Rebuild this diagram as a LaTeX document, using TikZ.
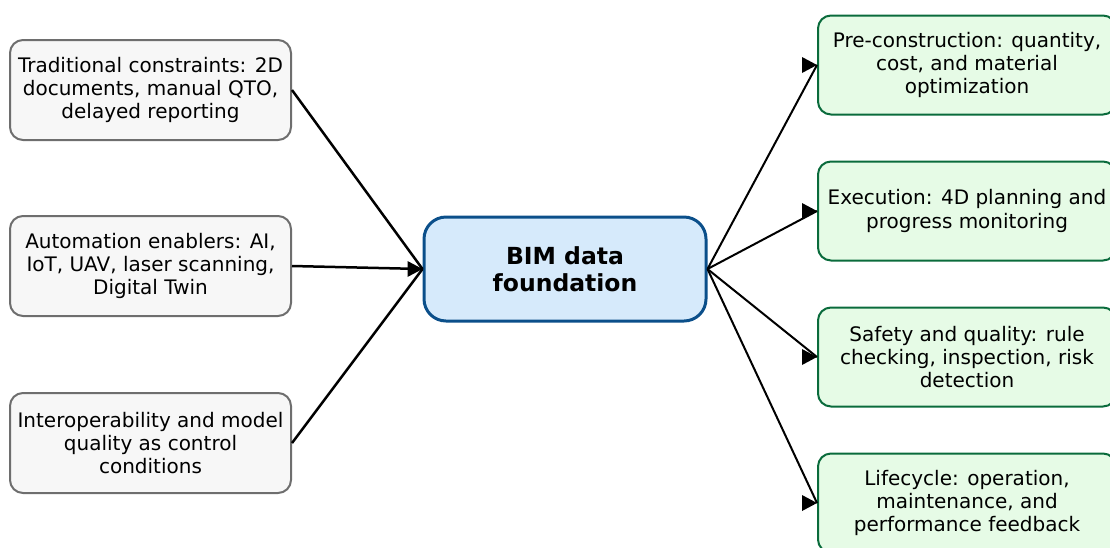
\documentclass[tikz,border=0pt]{standalone}
\usepackage{fontspec}
\setmainfont{DejaVu Sans}
\usetikzlibrary{arrows.meta,calc}
\definecolor{greyfill}{HTML}{F7F7F7}
\definecolor{greyline}{HTML}{6E6E6E}
\definecolor{bluefill}{HTML}{D6EAFB}
\definecolor{blueline}{HTML}{0B4F8A}
\definecolor{greenfill}{HTML}{E6FBE6}
\definecolor{greenline}{HTML}{0A6B3C}
\begin{document}
\begin{tikzpicture}[x=1pt,y=-1pt,
  base/.style={rounded corners=13pt, align=center, inner sep=0pt, text=black,
    font=\fontsize{20}{23.3}\selectfont},
  inbox/.style={base, draw=greyline, fill=greyfill, line width=2pt,
    minimum width=281pt, minimum height=100pt},
  hub/.style={base, draw=blueline, fill=bluefill, line width=3pt,
    minimum width=282pt, minimum height=104pt, rounded corners=22pt,
    font=\bfseries\fontsize{23.5}{27}\selectfont},
  outbox/.style={base, draw=greenline, fill=greenfill, line width=2pt,
    minimum width=298pt, minimum height=99pt},
  inconn/.style={black, line width=2.5pt},
  outconn/.style={black, line width=2pt},
  tipshape/.style={fill=black},
]
\path[use as bounding box] (0,0) rectangle (1110,547);
\clip (0,0) rectangle (1110,547);

\node[inbox] (l1) at (150.5,90) {Traditional constraints: 2D\\documents, manual QTO,\\delayed reporting};
\node[inbox] (l2) at (150.5,266) {Automation enablers: AI,\\IoT, UAV, laser scanning,\\Digital Twin};
\node[inbox] (l3) at (150.5,443) {Interoperability and model\\quality as control\\conditions};

\node[hub] (c) at (565,269) {BIM data\\foundation};

\node[outbox] (r1) at (967,65) {Pre-construction: quantity,\\cost, and material\\optimization};
\node[outbox] (r2) at (967,211) {Execution: 4D planning and\\progress monitoring};
\node[outbox] (r3) at (967,357) {Safety and quality: rule\\checking, inspection, risk\\detection};
\node[outbox] (r4) at (967,503) {Lifecycle: operation,\\maintenance, and\\performance feedback};

\foreach \s in {l1,l2,l3}{
  \draw[inconn] (\s.east) -- (c.west);
}
\fill[tipshape] (c.west) -- ++(-15,-8) -- ++(0,16) -- cycle;

\foreach \t in {r1,r2,r3,r4}{
  \draw[outconn] (c.east) -- (\t.west);
  \fill[tipshape] (\t.west) -- ++(-15,-8) -- ++(0,16) -- cycle;
}
\end{tikzpicture}
\end{document}
